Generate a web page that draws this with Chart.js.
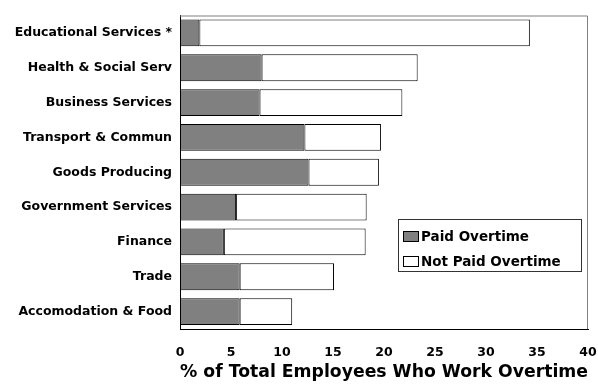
<!DOCTYPE html>
<html>
<head>
<meta charset="utf-8">
<script src="https://cdn.jsdelivr.net/npm/chart.js@4"></script>
<style>
  body { margin: 0; background: #fff; }
  #wrap { width: 598px; height: 387px; }
</style>
</head>
<body>
<div id="wrap"><canvas id="mainChart" width="598" height="387"></canvas></div>
<script>
const categories = [
  'Educational Services *', 'Health & Social Serv', 'Business Services',
  'Transport & Commun', 'Goods Producing', 'Government Services',
  'Finance', 'Trade', 'Accomodation & Food'
];
const paidOvertime    = [1.9, 8.0, 7.8, 12.2, 12.6, 5.5, 4.3, 5.85, 5.85];
const notPaidOvertime = [32.4, 15.3, 14.0, 7.5, 6.9, 12.8, 13.9, 9.25, 5.15];
const xTicks = [0, 5, 10, 15, 20, 25, 30, 35, 40];

const FONT = "'DejaVu Sans', sans-serif";

// frame (top/right) + legend box drawn inside the plot
const framePlugin = {
  id: 'frame',
  afterDraw(chart) {
    const { ctx, chartArea: a } = chart;
    ctx.save();
    ctx.strokeStyle = '#808080';
    ctx.lineWidth = 1;
    ctx.beginPath();
    ctx.moveTo(a.left, a.top + 0.5);
    ctx.lineTo(a.right - 0.5, a.top + 0.5);
    ctx.lineTo(a.right - 0.5, a.bottom);
    ctx.stroke();

    // legend
    const x = 398, y = 219, w = 183, h = 52;
    ctx.fillStyle = '#fff';
    ctx.fillRect(x, y, w, h);
    ctx.strokeStyle = '#333';
    ctx.strokeRect(x + 0.5, y + 0.5, w, h);
    const items = [
      { label: 'Paid Overtime', color: '#808080' },
      { label: 'Not Paid Overtime', color: '#ffffff' }
    ];
    ctx.font = 'bold 13.5px ' + FONT;
    ctx.textBaseline = 'middle';
    items.forEach((it, i) => {
      const cy = y + 17 + i * 25;
      ctx.fillStyle = it.color;
      ctx.fillRect(403, cy - 5, 15, 10);
      ctx.strokeStyle = '#000';
      ctx.strokeRect(403.5, cy - 4.5, 15, 10);
      ctx.fillStyle = '#000';
      ctx.fillText(it.label, 421, cy + 1);
    });
    ctx.restore();
  }
};

new Chart(document.getElementById('mainChart'), {
  type: 'bar',
  data: {
    labels: categories,
    datasets: [
      {
        label: 'Paid Overtime',
        data: paidOvertime,
        backgroundColor: '#808080',
        borderColor: '#000',
        borderWidth: 1,
        borderSkipped: false
      },
      {
        label: 'Not Paid Overtime',
        data: notPaidOvertime,
        backgroundColor: '#ffffff',
        borderColor: '#000',
        borderWidth: 1,
        borderSkipped: false
      }
    ]
  },
  options: {
    indexAxis: 'y',
    responsive: false,
    animation: false,
    layout: { padding: { top: 14, right: 10, left: 0, bottom: 0 } },
    datasets: { bar: { categoryPercentage: 1, barPercentage: 0.77 } },
    plugins: { legend: { display: false }, tooltip: { enabled: false } },
    scales: {
      x: {
        stacked: true,
        min: 0,
        max: 40,
        afterBuildTicks: s => { s.ticks = xTicks.map(v => ({ value: v })); },
        afterFit: s => { s.height = 58; s.paddingLeft = 0; s.paddingRight = 0; },
        grid: { display: false, drawTicks: false },
        border: { display: true, color: '#000', width: 1 },
        ticks: { color: '#000', font: { family: FONT, size: 12.5, weight: 'bold' }, padding: 16, maxRotation: 0 },
        title: {
          display: true,
          text: '% of Total Employees Who Work Overtime',
          color: '#000',
          font: { family: FONT, size: 17.5, weight: 'bold' },
          padding: { top: 5 }
        }
      },
      y: {
        stacked: true,
        afterFit: s => { s.width = 180; },
        grid: { display: false, drawTicks: false },
        border: { display: true, color: '#000', width: 1 },
        ticks: { color: '#000', font: { family: FONT, size: 12.5, weight: 'bold' }, padding: 8 }
      }
    }
  },
  plugins: [framePlugin]
});
</script>
</body>
</html>
